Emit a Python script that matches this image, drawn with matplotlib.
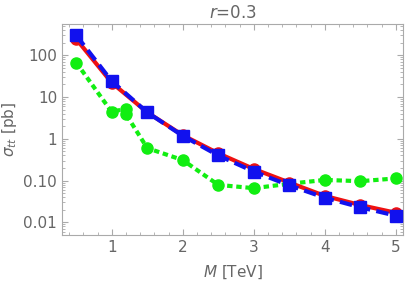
import numpy as np
import matplotlib.pyplot as plt
from matplotlib.ticker import MultipleLocator, LogLocator, FixedLocator, NullFormatter

plt.rcParams.update({
    "font.family": "DejaVu Sans",
    "font.size": 11,
    "mathtext.fontset": "dejavusans",
})

gray = "#666666"

# data
mass_red = [0.5, 1.0, 1.5, 2.0, 2.5, 3.0, 3.5, 4.0, 4.5, 5.0]
sigma_red = [245, 22, 4.3, 1.22, 0.45, 0.19, 0.09, 0.043, 0.026, 0.017]

mass_blue = [0.5, 1.0, 1.5, 2.0, 2.5, 3.0, 3.5, 4.0, 4.5, 5.0]
sigma_blue = [300, 24, 4.3, 1.18, 0.40, 0.165, 0.077, 0.039, 0.023, 0.0145]

mass_green = [0.5, 1.0, 1.2, 1.2, 1.5, 2.0, 2.5, 3.0, 3.5, 4.0, 4.5, 5.0]
sigma_green = [67, 4.4, 5.3, 3.9, 0.6, 0.31, 0.079, 0.066, 0.084, 0.104, 0.097, 0.113]

fig = plt.figure(figsize=(4.09, 2.85), dpi=100)
ax = fig.add_axes([62 / 409, 1 - 235 / 285, 341 / 409, 211 / 285])

ax.plot(mass_red, sigma_red, color="#ee1111", lw=3, ls="-", marker="o",
        ms=8, zorder=3)
ax.plot(mass_blue, sigma_blue, color="#1111ee", lw=3, ls=(0, (3, 1.5)),
        marker="s", ms=9, zorder=4)
ax.plot(mass_green, sigma_green, color="#11ee11", lw=3, ls=(0, (1.3, 0.9)),
        marker="o", ms=8, zorder=2)

ax.set_yscale("log")
ax.set_xlim(0.3, 5.1)
ax.set_ylim(0.005, 560)

ax.xaxis.set_major_locator(FixedLocator([1, 2, 3, 4, 5]))
ax.xaxis.set_minor_locator(MultipleLocator(0.2))
ax.yaxis.set_major_locator(FixedLocator([0.01, 0.1, 1, 10, 100]))
ax.yaxis.set_minor_locator(LogLocator(base=10, subs=np.arange(2, 10), numticks=20))
ax.yaxis.set_minor_formatter(NullFormatter())
ax.set_yticklabels(["0.01", "0.10", "1", "10", "100"])

for sp in ax.spines.values():
    sp.set_color("#aaaaaa")
ax.tick_params(which="both", direction="in", top=True, right=True,
               colors="#aaaaaa", labelcolor=gray, labelsize=11)
ax.tick_params(which="major", length=4)
ax.tick_params(which="minor", length=2)

ax.set_xlabel(r"$M$ [TeV]", color=gray, fontsize=11, labelpad=6)
ax.set_ylabel(r"$\sigma_{tt}$ [pb]", color=gray, fontsize=11, labelpad=3)
ax.set_title(r"$r$=0.3", color=gray, fontsize=12, pad=4)

fig.savefig("out.png", dpi=100)
